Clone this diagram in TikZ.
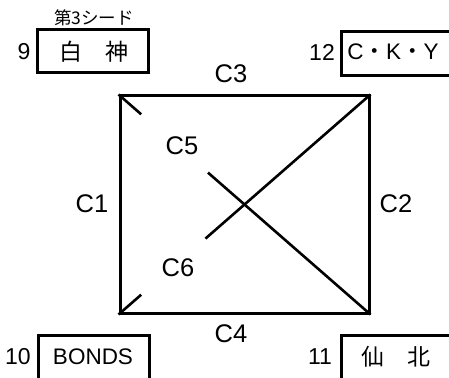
\documentclass[tikz,border=0pt]{standalone}
\usepackage{fontspec}
\setmainfont{Liberation Sans}
\newfontfamily\jp{Noto Sans CJK JP}
\usetikzlibrary{calc}
\begin{document}
\begin{tikzpicture}[x=1pt,y=-1pt,
  frame/.style={draw, line width=3pt, inner sep=0pt},
  diag/.style={line width=2.6pt},
  lbl/.style={font=\fontsize{25.5}{25.5}\selectfont, inner sep=0pt},
  num/.style={font=\fontsize{23}{23}\selectfont, inner sep=0pt},
  team/.style={font=\fontsize{22.5}{22.5}\selectfont, inner sep=0pt},
  teamjp/.style={font=\jp\fontsize{23}{23}\selectfont, inner sep=0pt},
  seed/.style={font=\jp\fontsize{17.5}{17.5}\selectfont, inner sep=0pt}]
\useasboundingbox (0,0) rectangle (449,377);
\begin{scope}
\clip (0,0) rectangle (449,377);
% square
\node[frame, minimum width=249pt, minimum height=217pt] (sq) at (244.5,204.5) {};
\draw[diag] (sq.south west) -- ($(sq.south west)!0.09!(sq.north east)$);
\draw[diag] ($(sq.south west)!0.345!(sq.north east)$) -- (sq.north east);
\draw[diag] (sq.north west) -- ($(sq.north west)!0.09!(sq.south east)$);
\draw[diag] ($(sq.north west)!0.355!(sq.south east)$) -- (sq.south east);
% edge labels
\node[lbl] (c3) at (231,74) {C3};
\node[lbl] (c1) at (92,204) {C1};
\node[lbl] (c2) at (396,204) {C2};
\node[lbl] (c4) at (231,334) {C4};
\node[lbl] (c5) at (182,146) {C5};
\node[lbl] (c6) at (178,268) {C6};
% team boxes
\node[frame, minimum width=111pt, minimum height=43pt] (b9) at (92.5,51.5) {};
\node[teamjp] (t9) at (94,52) {白　神};
\node[seed] (s9) at (94,17.5) {第3シード};
\node[num] (n9) at (24,52) {9};
\node[frame, anchor=north west, minimum width=140pt, minimum height=44pt] (b12) at (340,30) {};
\node[team] (t12) at (393,52) {C{\jp ・}K{\jp ・}Y};
\node[num] (n12) at (322,52) {12};
\node[frame, anchor=north west, minimum width=111pt, minimum height=60pt] (b10) at (37,334) {};
\node[team] (t10) at (93,357) {BONDS};
\node[num] (n10) at (18,357) {10};
\node[frame, anchor=north west, minimum width=140pt, minimum height=60pt] (b11) at (340,334) {};
\node[teamjp] (t11) at (396,357) {仙　北};
\node[num] (n11) at (320,357) {11};
\end{scope}
\end{tikzpicture}
\end{document}
